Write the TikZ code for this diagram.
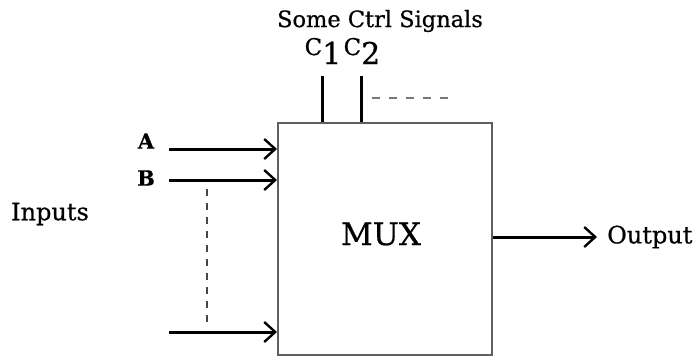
\documentclass[tikz,border=0pt]{standalone}
\usepackage{fontspec}
\setmainfont{DejaVu Serif}[FakeBold=0.6]
\usetikzlibrary{arrows.meta, positioning}
\definecolor{boxGray}{RGB}{95,95,95}
\definecolor{dashGray}{RGB}{70,70,70}
\definecolor{moreGray}{RGB}{120,120,120}
\tikzset{
  block/.style={draw=boxGray, line width=2pt, minimum width=214pt, minimum height=232pt, inner sep=0pt},
  lbl/.style={inner sep=0pt, font=\fontsize{24}{28}\selectfont},
  wire/.style={-{Straight Barb[length=11pt, width=20pt, line width=2.4pt]}, line width=3pt},
  ctrl/.style={line width=3pt},
  more/.style={dashGray, line width=2pt, dash pattern=on 7pt off 7pt},
}
\newcommand{\csig}[1]{C\raisebox{-9pt}{\fontsize{30}{32}\selectfont #1}}
\begin{document}
\begin{tikzpicture}[x=1pt, y=-1pt]
    \useasboundingbox (0,0) rectangle (698,356);
    % the multiplexer
    \node[block] (mux) at (385,239) {};
    \node[lbl, font=\fontsize{31}{34}\selectfont] (name) at (381,234) {MUX};
    % inputs
    \node[lbl] (inp) at (50,214) {Inputs};
    \node[lbl, font=\bfseries\fontsize{21}{24}\selectfont] (la) at (146,141) {A};
    \node[lbl, font=\bfseries\fontsize{21}{24}\selectfont] (lb) at (146,178) {B};
    \coordinate (a0) at (169,149);
    \coordinate (b0) at (169,180);
    \coordinate (n0) at (169,332);
    \draw[wire] (a0) -- (a0 -| mux.west);
    \draw[wire] (b0) -- (b0 -| mux.west);
    \draw[wire] (n0) -- (n0 -| mux.west);
    \coordinate (d0) at (207,189);
    \coordinate (d1) at (207,328);
    \draw[more] (d0) -- (d1);
    % control signals
    \node[lbl, font=\fontsize{22.5}{26}\selectfont] (ctl) at (380,21) {Some Ctrl Signals};
    \node[lbl, font=\fontsize{23}{25}\selectfont, anchor=base] (c1) at (323,55) {\csig{1}};
    \node[lbl, font=\fontsize{23}{25}\selectfont, anchor=base] (c2) at (362,55) {\csig{2}};
    \coordinate (c1t) at (322,76);
    \coordinate (c2t) at (361,76);
    \draw[ctrl] (c1t) -- (c1t |- mux.north);
    \draw[ctrl] (c2t) -- (c2t |- mux.north);
    \coordinate (e0) at (372,98);
    \coordinate (e1) at (456,98);
    \draw[more, moreGray, dash pattern=on 8pt off 9pt] (e0) -- (e1);
    % output
    \node[lbl, anchor=west] (out) at (607,237) {Output};
    \draw[wire] (mux.east |- out.west) -- ([xshift=-10pt]out.west);
    \end{tikzpicture}
\end{document}
